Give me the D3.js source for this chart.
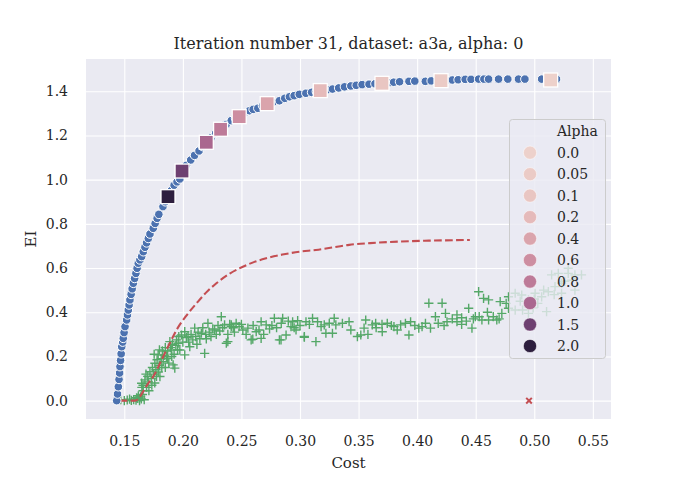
<!DOCTYPE html>
<html><head><meta charset="utf-8">
<script src="https://cdn.jsdelivr.net/npm/d3@7"></script>
<style>
body{margin:0;background:#fff;}
svg{display:block;}
text{font-family:"DejaVu Serif",serif;fill:#262626;}
</style>
</head><body>
<svg id="chart" width="680" height="480"></svg>
<script>
const titleText = "Iteration number 31, dataset: a3a, alpha: 0";
const xLabel = "Cost";
const yLabel = "EI";
const xTicks = [0.15,0.20,0.25,0.30,0.35,0.40,0.45,0.50,0.55];
const yTicks = [0.0,0.2,0.4,0.6,0.8,1.0,1.2,1.4];
const legendTitle = "Alpha";
const alphaLevels = [0.0,0.05,0.1,0.2,0.4,0.6,0.8,1.0,1.5,2.0];
const alphaLabels = ["0.0","0.05","0.1","0.2","0.4","0.6","0.8","1.0","1.5","2.0"];

// blue front points [cost, EI]
const frontPoints = [
[0.1435,0.000],[0.1442,0.030],[0.1449,0.063],[0.1455,0.096],[0.1460,0.125],[0.1463,0.154],
[0.1468,0.182],[0.1473,0.212],[0.1478,0.244],[0.1486,0.265],[0.1491,0.282],[0.1498,0.308],[0.1506,0.335],
[0.1520,0.365],[0.1527,0.388],[0.1534,0.410],[0.1541,0.433],[0.1548,0.456],[0.1558,0.481],[0.1567,0.506],
[0.1577,0.531],[0.1588,0.553],[0.1599,0.576],[0.1609,0.599],[0.1619,0.622],[0.1633,0.637],[0.1648,0.652],[0.1662,0.674],
[0.1676,0.694],[0.1690,0.714],[0.1705,0.734],[0.1719,0.754],[0.1747,0.780],[0.1763,0.802],[0.1780,0.825],
[0.1795,0.843],[0.1830,0.878],[0.1850,0.900],[0.1873,0.923],[0.1900,0.950],[0.1925,0.975],[0.1950,0.990],
[0.1974,1.003],[0.1993,1.039],[0.2030,1.065],[0.2067,1.089],[0.2100,1.110],[0.2138,1.130],[0.2170,1.150],[0.2200,1.169],
[0.2240,1.190],[0.2280,1.210],[0.2322,1.228],[0.2370,1.250],[0.2413,1.267],[0.2450,1.278],[0.2481,1.285],[0.2520,1.298],
[0.2569,1.312],[0.2600,1.318],[0.2640,1.323],[0.2680,1.335],[0.2720,1.344],[0.2770,1.350],[0.2824,1.357],[0.2870,1.368],
[0.2910,1.375],[0.2950,1.380],[0.2994,1.386],[0.3050,1.391],[0.3099,1.395],[0.3140,1.399],[0.3173,1.403],[0.3230,1.407],
[0.3277,1.410],[0.3330,1.415],[0.3380,1.420],[0.3434,1.424],[0.3480,1.427],[0.3530,1.430],[0.3589,1.432],[0.3640,1.434],
[0.3700,1.436],[0.3759,1.439],[0.3800,1.441],[0.3850,1.443],[0.3930,1.445],[0.3980,1.446],[0.4070,1.445],[0.4120,1.447],
[0.4204,1.448],[0.4250,1.450],[0.4300,1.451],[0.4350,1.452],[0.4410,1.454],[0.4460,1.454],[0.4525,1.455],[0.4570,1.455],
[0.4610,1.455],[0.4695,1.455],[0.4774,1.455],[0.4865,1.455],[0.4920,1.455],[0.5063,1.455],[0.5140,1.455],[0.5190,1.455]
];

// highlighted points per alpha
const alphaPointAlpha = [2.0,1.5,1.0,0.8,0.6,0.4,0.2,0.1,0.05,0.0];
const alphaPointCost  = [0.1873,0.1993,0.2200,0.2322,0.2481,0.2720,0.3173,0.3700,0.4204,0.5140];
const alphaPointEI    = [0.923,1.039,1.169,1.228,1.285,1.344,1.403,1.436,1.448,1.451];

// green sample points [cost, EI]
const samplePoints = [
[0.1470,0.004],[0.1500,0.000],[0.1525,0.003],[0.1545,0.007],[0.1560,0.001],[0.1580,0.005],[0.1600,0.002],[0.1615,0.010],
[0.1630,0.000],[0.1645,0.008],[0.1655,0.028],[0.1640,0.017],[0.1670,0.004],[0.1620,0.022],[0.1605,0.013],[0.1660,0.045],
[0.1650,0.060],
[0.1648,0.079],[0.1676,0.094],[0.1660,0.070],[0.1690,0.060],[0.1700,0.110],[0.1719,0.131],[0.1705,0.085],[0.1730,0.100],
[0.1740,0.150],[0.1761,0.169],[0.1750,0.120],[0.1770,0.140],[0.1789,0.207],[0.1780,0.185],[0.1800,0.160],[0.1804,0.109],
[0.1815,0.190],[0.1832,0.176],[0.1825,0.225],[0.1840,0.205],[0.1850,0.240],[0.1860,0.199],[0.1870,0.225],[0.1880,0.170],
[0.1889,0.267],[0.1895,0.240],[0.1903,0.229],[0.1910,0.255],[0.1917,0.162],[0.1931,0.147],[0.1925,0.210],[0.1940,0.250],
[0.1946,0.275],[0.1955,0.230],[0.1974,0.229],[0.1965,0.290],[0.1988,0.297],[0.2000,0.265],[0.2016,0.312],[0.2016,0.207],
[0.2030,0.285],[0.2044,0.290],[0.2059,0.244],[0.2070,0.300],[0.2085,0.275],[0.2101,0.328],[0.2110,0.290],[0.2130,0.310],
[0.2145,0.280],[0.2158,0.305],[0.2170,0.330],[0.2186,0.214],[0.2195,0.300],[0.2214,0.350],[0.2225,0.310],[0.2240,0.290],
[0.2255,0.325],[0.2271,0.320],[0.2285,0.300],[0.2300,0.340],[0.2315,0.315],[0.2328,0.380],[0.2340,0.330],[0.2356,0.343],
[0.2371,0.260],[0.2384,0.300],[0.2400,0.345],[0.2413,0.335],[0.2430,0.330],
[0.1710,0.045],[0.1685,0.120],[0.1760,0.080],[0.1790,0.130],[0.1820,0.150],[0.1800,0.230],[0.1850,0.150],[0.1755,0.210],
[0.1735,0.070],[0.1775,0.110],[0.1870,0.190],[0.1905,0.200],[0.1960,0.260],[0.2050,0.265],[0.2120,0.255],[0.2200,0.280],
[0.2413,0.343],[0.2455,0.350],[0.2512,0.320],[0.2555,0.328],[0.2583,0.275],[0.2626,0.312],[0.2668,0.357],[0.2668,0.282],
[0.2711,0.343],[0.2740,0.325],[0.2781,0.373],[0.2824,0.275],[0.2852,0.373],[0.2881,0.297],[0.2923,0.335],[0.2937,0.357],
[0.2966,0.320],[0.2980,0.362],[0.3037,0.290],[0.3051,0.357],[0.3107,0.373],[0.3136,0.267],[0.3150,0.357],[0.3207,0.343],
[0.3221,0.305],[0.3277,0.305],[0.3292,0.373],[0.3306,0.343],[0.3362,0.350],[0.3419,0.357],[0.3434,0.320],[0.3490,0.290],
[0.3519,0.297],[0.3547,0.328],[0.3561,0.365],
[0.2440,0.310],[0.2480,0.335],[0.2500,0.345],[0.2540,0.300],[0.2600,0.340],[0.2650,0.320],[0.2690,0.300],[0.2760,0.340],
[0.2800,0.330],[0.2840,0.350],[0.2900,0.360],[0.2950,0.330],[0.3000,0.340],[0.3080,0.345],[0.3180,0.335],[0.3250,0.350],
[0.2384,0.267],[0.2597,0.278],[0.2838,0.275],[0.3037,0.287],
[0.3617,0.343],[0.3646,0.350],[0.3702,0.312],[0.3745,0.350],[0.3802,0.335],[0.3859,0.343],[0.3930,0.297],[0.3944,0.357],
[0.4014,0.328],[0.4042,0.335],[0.4071,0.350],[0.4100,0.441],[0.4114,0.328],[0.4156,0.380],[0.4213,0.441],[0.4242,0.395],
[0.4255,0.357],[0.4340,0.357],[0.4340,0.388],[0.4440,0.418],[0.4468,0.328],[0.4497,0.380],[0.4525,0.493],[0.4553,0.365],
[0.4567,0.463],[0.4610,0.456],[0.4610,0.365],[0.4680,0.365],[0.4709,0.448],[0.4723,0.395],[0.3580,0.300],[0.3650,0.330],
[0.3700,0.345],[0.3780,0.340],[0.3830,0.320],[0.3900,0.350],[0.3980,0.340],[0.4180,0.350],[0.4300,0.370],[0.4380,0.375],
[0.4420,0.360],[0.4480,0.370],[0.4530,0.380],[0.4600,0.400],[0.4650,0.380],[0.4700,0.370],[0.4230,0.340],[0.4380,0.345],
[0.4780,0.470],[0.4837,0.486],[0.4893,0.478],[0.4950,0.456],[0.5007,0.486],[0.5063,0.470],[0.5120,0.493],[0.5177,0.516],
[0.5233,0.531],[0.5290,0.576],[0.5347,0.569],[0.5403,0.569],[0.5148,0.569],[0.5205,0.576],[0.5290,0.599],[0.4837,0.410],
[0.4780,0.418],[0.5105,0.403],[0.4950,0.425],[0.5030,0.440],[0.5233,0.486],[0.5347,0.500],[0.4950,0.395],[0.4760,0.440],
[0.4880,0.450],[0.5000,0.460],[0.5170,0.480],[0.5260,0.540],[0.5320,0.545],[0.5080,0.500],[0.4990,0.420],[0.4900,0.410]
];

// red dashed curve [cost, EI]
const curvePoints = [
[0.1460,0.000],[0.1590,0.000],[0.1630,0.015],[0.1660,0.041],[0.1700,0.075],[0.1747,0.109],[0.1818,0.184],[0.1889,0.261],
[0.1946,0.320],[0.2030,0.385],[0.2116,0.440],[0.2200,0.490],[0.2286,0.531],[0.2400,0.575],[0.2512,0.606],[0.2611,0.628],
[0.2711,0.644],[0.2850,0.661],[0.2994,0.674],[0.3136,0.682],[0.3300,0.695],[0.3420,0.705],[0.3600,0.713],[0.3844,0.720],
[0.4100,0.724],[0.4450,0.727]
];

const outlierPoints = [[0.4955,0.0]];

// ---- layout ----
const plot = {left:86, right:611, top:59, bottom:419};
const svg = d3.select("#chart");
const x = d3.scaleLinear().domain([0.1173,0.5655]).range([plot.left, plot.right]);
const y = d3.scaleLinear().domain([-0.083,1.546]).range([plot.bottom, plot.top]);

// seaborn cubehelix (start=0, rot=0.4, hue=0.8, light=0.85, dark=0.15)
function cubehelix(v){
  const t = (v - 0) / (2 - 0);
  const lam = 0.85 + (0.15 - 0.85) * t;
  const a = 0.8 * lam * (1 - lam) / 2;
  const phi = 2 * Math.PI * (0 / 3 + 0.4 * lam);
  const c = Math.cos(phi), s = Math.sin(phi);
  const r = lam + a * (-0.14861 * c + 1.78277 * s);
  const g = lam + a * (-0.29227 * c - 0.90649 * s);
  const b = lam + a * (1.97294 * c);
  const cl = u => Math.round(Math.max(0, Math.min(1, u)) * 255);
  return `rgb(${cl(r)},${cl(g)},${cl(b)})`;
}

svg.append("rect").attr("x",plot.left).attr("y",plot.top)
  .attr("width",plot.right-plot.left).attr("height",plot.bottom-plot.top).attr("fill","#eaeaf2");

svg.append("clipPath").attr("id","clip").append("rect")
  .attr("x",plot.left).attr("y",plot.top).attr("width",plot.right-plot.left).attr("height",plot.bottom-plot.top);

const gx = svg.append("g").attr("transform",`translate(0,${plot.bottom})`)
  .call(d3.axisBottom(x).tickValues(xTicks).tickFormat(d3.format(".2f")).tickSize(-(plot.bottom-plot.top)).tickPadding(17));
const gy = svg.append("g").attr("transform",`translate(${plot.left},0)`)
  .call(d3.axisLeft(y).tickValues(yTicks).tickFormat(d3.format(".1f")).tickSize(-(plot.right-plot.left)).tickPadding(18));
[gx,gy].forEach(g=>{
  g.select(".domain").remove();
  g.selectAll(".tick line").attr("stroke","#ffffff").attr("stroke-width",1.1);
  g.selectAll(".tick text").attr("font-family","DejaVu Serif").attr("font-size",14).attr("fill","#262626");
});

const pg = svg.append("g").attr("clip-path","url(#clip)");

// green crosses
const cs = 4.6;
pg.append("g").selectAll("path").data(samplePoints).join("path")
  .attr("d", d => `M${x(d[0])-cs},${y(d[1])}H${x(d[0])+cs}M${x(d[0])},${y(d[1])-cs}V${y(d[1])+cs}`)
  .attr("stroke","#55a868").attr("stroke-width",1.4).attr("fill","none");

// red dashed curve
pg.append("path").datum(curvePoints)
  .attr("d", d3.line().x(d=>x(d[0])).y(d=>y(d[1])).curve(d3.curveMonotoneX))
  .attr("fill","none").attr("stroke","#c44e52").attr("stroke-width",2.1).attr("stroke-dasharray","7.7,3.3");

// blue front
pg.append("g").selectAll("circle").data(frontPoints).join("circle")
  .attr("cx",d=>x(d[0])).attr("cy",d=>y(d[1])).attr("r",4.3)
  .attr("fill","#4c72b0").attr("stroke","#ffffff").attr("stroke-width",1);

// alpha squares
const sq = 14;
pg.append("g").selectAll("rect").data(alphaPointAlpha.map((a,i)=>({a, c:alphaPointCost[i], e:alphaPointEI[i]}))).join("rect")
  .attr("x",d=>x(d.c)-sq/2).attr("y",d=>y(d.e)-sq/2).attr("width",sq).attr("height",sq)
  .attr("fill",d=>cubehelix(d.a)).attr("stroke","#ffffff").attr("stroke-width",1.3);

// red x
const xs = 2.8;
pg.append("g").selectAll("path").data(outlierPoints).join("path")
  .attr("d", d => `M${x(d[0])-xs},${y(d[1])-xs}L${x(d[0])+xs},${y(d[1])+xs}M${x(d[0])-xs},${y(d[1])+xs}L${x(d[0])+xs},${y(d[1])-xs}`)
  .attr("stroke","#c44e52").attr("stroke-width",2).attr("fill","none");

// title & labels
svg.append("text").attr("x",(plot.left+plot.right)/2).attr("y",49).attr("text-anchor","middle")
  .attr("font-size",16).text(titleText);
svg.append("text").attr("x",(plot.left+plot.right)/2).attr("y",468).attr("text-anchor","middle")
  .attr("font-size",15).text(xLabel);
svg.append("text").attr("transform",`translate(36,${(plot.top+plot.bottom)/2}) rotate(-90)`).attr("text-anchor","middle")
  .attr("font-size",15).text(yLabel);

// legend
const lg = svg.append("g");
lg.append("rect").attr("x",509.5).attr("y",119.5).attr("width",96).attr("height",239).attr("rx",3)
  .attr("fill","rgba(234,234,242,0.8)").attr("stroke","#cccccc").attr("stroke-width",1);
const rowY = i => 131.2 + 21.48 * i;
lg.append("text").attr("x",557).attr("y",rowY(0)).attr("dy","0.36em").attr("font-size",14).text(legendTitle);
alphaLevels.forEach((a,i)=>{
  lg.append("circle").attr("cx",530).attr("cy",rowY(i+1)).attr("r",6.6).attr("fill",cubehelix(a))
    .attr("stroke","#ffffff").attr("stroke-width",0.5);
  lg.append("text").attr("x",557).attr("y",rowY(i+1)).attr("dy","0.36em").attr("font-size",14).text(alphaLabels[i]);
});
</script>
</body></html>
